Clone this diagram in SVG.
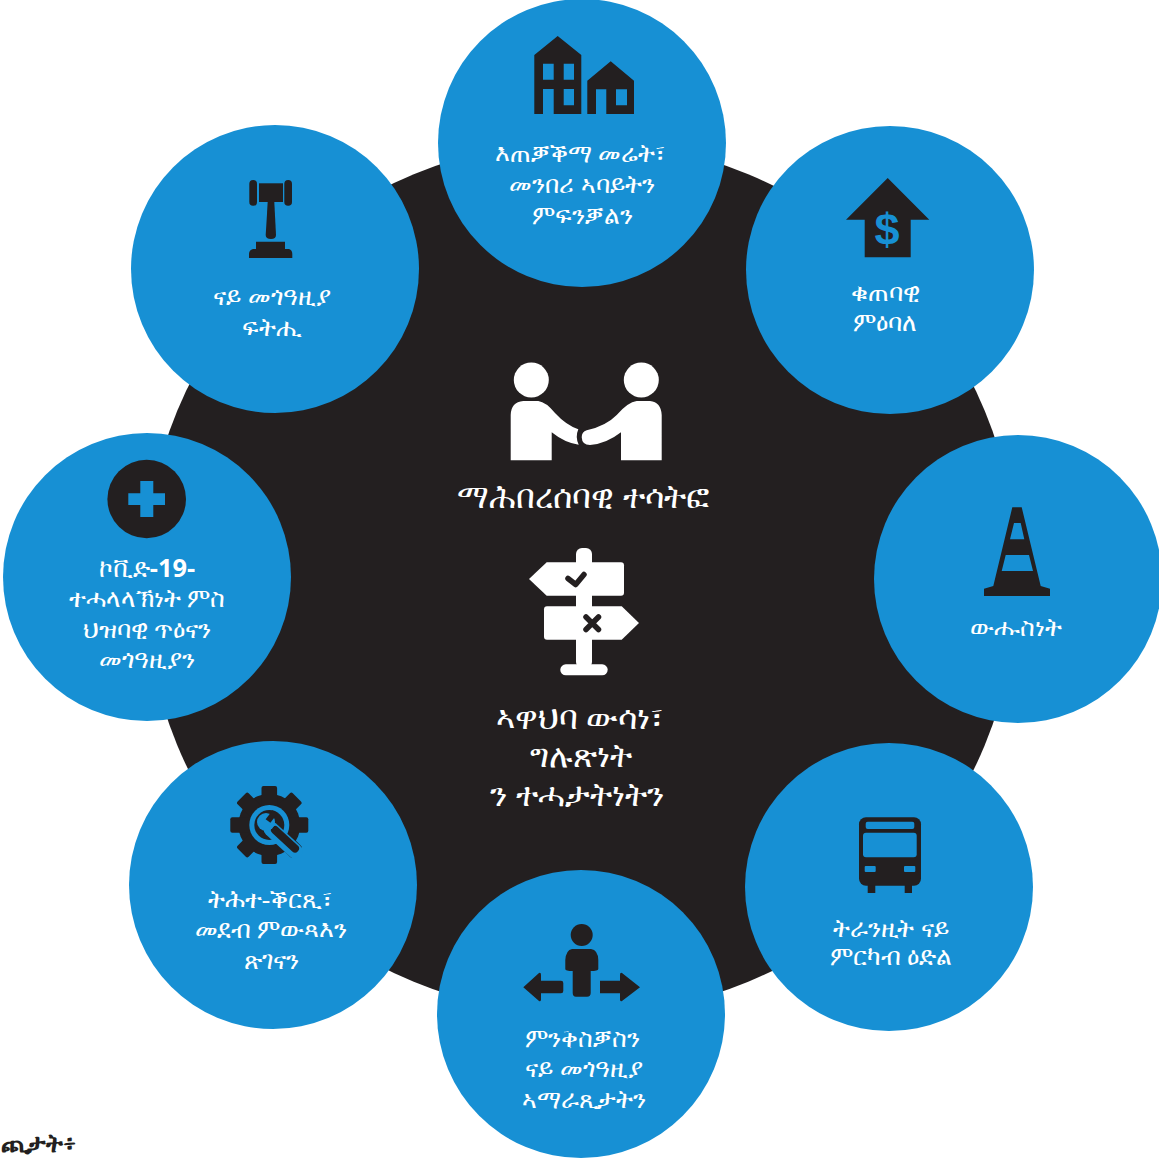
<svg xmlns="http://www.w3.org/2000/svg" width="1159" height="1162" viewBox="0 0 1159 1162">
<style>
.c{fill:#1790d4}
.d{fill:#231f20}
.b{fill:#1790d4}
.w{fill:#fff}
text{font-family:"Liberation Serif",serif;fill:#fff;text-anchor:middle}
.t{font-size:25.4px}
.m{font-size:33px}
</style>
<rect width="1159" height="1162" fill="#fff"/>
<circle id="hub" class="d" cx="581" cy="578" r="437"/>
<g id="node-land"><circle class="c" cx="582" cy="143" r="144"/>
<path class="d" fill-rule="evenodd" d="M534.3 55L557.7 36L581.3 55V114H534.3ZM543 63.7V79.7H553.7V63.7ZM563.7 63.7V79.7H574V63.7ZM543 89V114H553.7V89ZM563.7 89V105.3H574V89Z"/>
<path class="d" fill-rule="evenodd" d="M587.3 80.7L610.7 61.3L634 80.7V114H587.3ZM596 89.3V114H606.3V89.3ZM616 89.3V105.3H627V89.3Z"/>
<text class="t" x="580" y="162">እጠቓቕማ መሬት፣</text><text class="t" x="582" y="193">መንበሪ ኣባይትን</text><text class="t" x="582" y="224">ምፍንቓልን</text></g>
<g id="node-economy"><circle class="c" cx="890" cy="270" r="144"/>
<path class="d" d="M887.7 178L929.3 219.7H910.7V257.3H864.7V219.7H846Z"/>
<text x="887" y="245" style="font-family:'Liberation Sans',sans-serif;font-weight:700;font-size:45px;fill:#1790d4">$</text>
<text class="t" x="885" y="301">ቁጠባዊ</text><text class="t" x="885" y="331">ምዕባለ</text></g>
<g id="node-safety"><circle class="c" cx="1018" cy="579" r="144"/>
<path class="d" fill-rule="evenodd" d="M1012.3 507.3H1021.7L1040.7 586L1050 588.7V596H984V588.7L993.3 586ZM1014 523L1010 539.3H1024.3L1020.7 523ZM1005.7 555L1001.7 571H1033L1029 555Z"/>
<text class="t" x="1016" y="636">ውሑስነት</text></g>
<g id="node-transit"><circle class="c" cx="889" cy="887" r="144"/>
<path class="d" d="M867.7 880H875.3V893H867.7ZM904.7 880H912V893H904.7Z"/>
<rect class="d" x="859" y="817.3" width="62" height="68.4" rx="7"/>
<rect class="b" x="865.7" y="821.7" width="48.6" height="7.3" rx="2"/>
<rect class="b" x="863" y="832.7" width="53.7" height="24.6" rx="3"/>
<rect class="b" x="864.7" y="866" width="11" height="6" rx="1"/>
<rect class="b" x="904" y="866" width="11.3" height="6" rx="1"/>
<text class="t" x="891" y="937">ትራንዚት ናይ</text><text class="t" x="891" y="965">ምርካብ ዕድል</text></g>
<g id="node-mobility"><circle class="c" cx="581" cy="1014" r="144"/>
<circle class="d" cx="581.7" cy="935" r="11"/>
<path class="d" d="M572 949H591Q598 950 598.3 960V969Q598 971 590.7 971V993Q590.7 996.7 587 996.7H576Q572.7 996.7 572.7 993V971Q565.3 971 565.3 969V960Q566 950 572 949Z"/>
<path class="d" d="M523.3 987.3L539 973Q541 972 541 975V980.7H561Q563.3 980.7 563.3 983V991Q563.3 993.3 561 993.3H541V999.5Q541 1002 539 1001L523.3 987.3ZM640 987.3L622 973Q620 972 620 975V980.7H600V993.3H620V999.5Q620 1002 622 1001Z"/>
<text class="t" x="582" y="1047">ምንቅስቓስን</text><text class="t" x="584" y="1077">ናይ መጎዓዚያ</text><text class="t" x="584" y="1108">ኣማራጺታትን</text></g>
<g id="node-infrastructure"><circle class="c" cx="273" cy="885" r="144"/>
<g id="gear"><g class="d"><circle cx="269.3" cy="825" r="31"/><rect x="261.5" y="786" width="15.6" height="78" rx="2"/><rect x="261.5" y="786" width="15.6" height="78" rx="2" transform="rotate(45 269.3 825)"/><rect x="261.5" y="786" width="15.6" height="78" rx="2" transform="rotate(90 269.3 825)"/><rect x="261.5" y="786" width="15.6" height="78" rx="2" transform="rotate(135 269.3 825)"/></g>
<circle cx="269.3" cy="825" r="20" class="b"/><circle cx="269.3" cy="825" r="15" class="d"/>
<path d="M271 829L295 851" stroke="#1790d4" stroke-width="15" stroke-linecap="round" fill="none"/>
<path d="M275 830L295 848.5" stroke="#231f20" stroke-width="8" stroke-linecap="round" fill="none"/>
<path d="M273 827L262 816" stroke="#1790d4" stroke-width="6" fill="none"/>
<circle cx="266" cy="822" r="9" class="b"/>
<path d="M268 821L275 812" stroke="#231f20" stroke-width="6" fill="none"/>
</g>
<text class="t" x="270" y="908">ትሕተ-ቕርጺ፣</text><text class="t" x="271" y="938">መደብ ምውጻእን</text><text class="t" x="271" y="969">ጽገናን</text></g>
<g id="node-covid"><circle class="c" cx="147" cy="577" r="144"/>
<circle class="d" cx="146.7" cy="499" r="39.3"/>
<path class="b" d="M140.3 481H153.3V493.3H165V505H153.3V517H140.3V505H128.3V493.3H140.3Z"/>
<text class="t" x="147" y="577">ኮቪድ<tspan style="font-family:'Open Sans','Liberation Sans',sans-serif;font-weight:700">-19-</tspan></text><text class="t" x="147" y="607">ተሓላላኽነት ምስ</text><text class="t" x="147" y="638">ህዝባዊ ጥዕናን</text><text class="t" x="147" y="668">መጎዓዚያን</text></g>
<g id="node-justice"><circle class="c" cx="275" cy="269" r="144"/>
<g class="d"><rect x="249.3" y="180" width="7.7" height="25.7" rx="3.8"/><rect x="284.3" y="180" width="7.7" height="25.7" rx="3.8"/><rect x="259" y="183.3" width="24" height="18.7"/>
<path d="M267.7 202H274.3L276 235Q276 239 271 239Q265.7 239 265.7 235Z"/><path d="M256 241.7H285V249H289Q292.3 250 292.3 254V258H249V254Q249 250 253 249H256Z"/></g>
<text class="t" x="272" y="305">ናይ መጎዓዚያ</text><text class="t" x="272" y="336">ፍትሒ</text></g>
<g id="center-participation">
<circle class="w" cx="531.3" cy="380" r="17.5"/><circle class="w" cx="641.3" cy="380" r="17.5"/>
<path class="w" d="M510.7 460.3V415Q511 402 523.3 401H538.3Q546 402 555 413Q566 425 578.3 429.3Q575 437 578.7 444.7Q565 443 551.7 432.3V460.3Z"/>
<path class="w" d="M661.7 460.3V415Q661 402 650 401H636.7Q628 402 616.7 415Q606 426 586.7 430.3Q581.7 432 581.7 437.3Q582 445 590 445Q606 444 621 432.3V460.3Z"/>
<text class="m" x="583" y="508">ማሕበረሰባዊ ተሳትፎ</text></g>
<g id="center-decision">
<rect class="w" x="576" y="548" width="16" height="120" rx="6"/>
<rect class="w" x="560.3" y="664.3" width="47.4" height="11" rx="5.5"/>
<path class="w" d="M529 579L546.7 562.3H621Q624 562.3 624 565.3V592.7Q624 595.7 621 595.7H546.7Z"/>
<path class="w" d="M639 623L621.7 606.3H547Q544 606.3 544 609.3V636.7Q544 639.7 547 639.7H621.7Z"/>
<path d="M568 578.5L575.7 584.5L584 574.5" fill="none" stroke="#231f20" stroke-width="5.5" stroke-linecap="round" stroke-linejoin="round"/>
<path d="M586 617L598.5 629.5M598.5 617L586 629.5" fill="none" stroke="#231f20" stroke-width="5.5" stroke-linecap="round"/>
<text class="m" x="580" y="729">ኣዋህባ ውሳነ፣</text><text class="m" x="581" y="767">ግሉጽነት</text><text class="m" x="577" y="806">ን ተሓታትነትን</text></g>
<text x="38.5" y="1152" style="fill:#231f20;font-size:25.4px;font-weight:700">ጪታት፥</text>
</svg>
